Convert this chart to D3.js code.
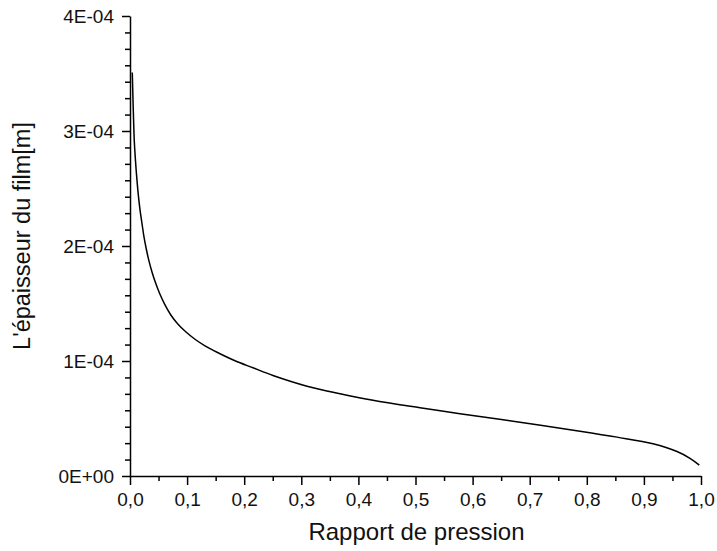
<!DOCTYPE html>
<html>
<head>
<meta charset="utf-8">
<script src="https://cdn.jsdelivr.net/npm/d3@7"></script>
<style>
  body { margin: 0; background: #fff; }
  text { font-family: "Liberation Sans", Arial, sans-serif; fill: #111; }
</style>
</head>
<body>
<div id="chart"></div>
<script>
// pressure ratio (x) and film thickness in m (y)
const ratio = [0.0040, 0.0058, 0.0075, 0.0096, 0.0117, 0.0145, 0.0175, 0.0210, 0.0245, 0.0289,
    0.0333, 0.0385, 0.0447, 0.0525, 0.0613, 0.0718, 0.0841, 0.0981, 0.1138, 0.1313,
    0.1524, 0.1839, 0.2154, 0.2504, 0.3100, 0.3678, 0.4256, 0.5079, 0.5779, 0.6830,
    0.7881, 0.8529, 0.9159, 0.9580, 0.9807, 0.9970];
const thickness = [3.508e-4, 3.176e-4, 2.915e-4, 2.742e-4, 2.603e-4, 2.447e-4, 2.317e-4, 2.195e-4, 2.080e-4, 1.965e-4,
    1.868e-4, 1.774e-4, 1.680e-4, 1.580e-4, 1.488e-4, 1.398e-4, 1.320e-4, 1.252e-4, 1.189e-4, 1.132e-4,
    1.076e-4, 1.002e-4, 0.941e-4, 0.874e-4, 0.781e-4, 0.716e-4, 0.659e-4, 0.594e-4, 0.542e-4, 0.468e-4,
    0.390e-4, 0.338e-4, 0.280e-4, 0.213e-4, 0.154e-4, 0.095e-4];

const xTicks = [0, 0.1, 0.2, 0.3, 0.4, 0.5, 0.6, 0.7, 0.8, 0.9, 1.0];
const yTicks = [0, 1e-4, 2e-4, 3e-4, 4e-4];
const yLabels = ['0E+00', '1E-04', '2E-04', '3E-04', '4E-04'];

const width = 717;
const height = 551;
const margin = { top: 16, right: 16, bottom: 75, left: 130 };

const data = ratio.map((r, i) => ({ x: r, y: thickness[i] }));

const x = d3.scaleLinear()
    .domain([0, 1])
    .range([margin.left, width - margin.right]);

const y = d3.scaleLinear()
    .domain([0, 4e-4])
    .range([height - margin.bottom, margin.top]);

const svg = d3.select('#chart')
    .append('svg')
    .attr('width', width)
    .attr('height', height);

// minor ticks: one between x majors, six between y majors
const xMinor = d3.range(0.05, 1, 0.1);
const yMinor = [];
yTicks.slice(0, -1).forEach(t => {
    for (let k = 1; k < 7; k++) yMinor.push(t + k * 1e-4 / 7);
});

// x axis
const xAxis = svg.append('g')
    .attr('transform', `translate(0, ${height - margin.bottom})`);
xAxis.call(d3.axisBottom(x).tickValues(xMinor).tickSize(5).tickFormat(''))
    .call(g => g.select('.domain').remove());
xAxis.append('g')
    .call(d3.axisBottom(x).tickValues(xTicks).tickSize(9).tickSizeOuter(0).tickPadding(8)
        .tickFormat(d => d3.format('.1f')(d).replace('.', ',')));

// y axis
const yAxis = svg.append('g')
    .attr('transform', `translate(${margin.left}, 0)`);
yAxis.call(d3.axisLeft(y).tickValues(yMinor).tickSize(5).tickFormat(''))
    .call(g => g.select('.domain').remove());
yAxis.append('g')
    .call(d3.axisLeft(y).tickValues(yTicks).tickSize(8).tickSizeOuter(0).tickPadding(8)
        .tickFormat((d, i) => yLabels[i]));

svg.selectAll('.domain, .tick line')
    .attr('stroke', '#000')
    .attr('stroke-width', 1.5);
svg.selectAll('.tick text')
    .attr('font-size', '19px')
    .attr('fill', '#111');

// axis titles
svg.append('text')
    .attr('x', (margin.left + width - margin.right) / 2 + 1)
    .attr('y', 540)
    .attr('text-anchor', 'middle')
    .attr('font-size', '24px')
    .text('Rapport de pression');

svg.append('text')
    .attr('transform', `translate(30, 236) rotate(-90)`)
    .attr('text-anchor', 'middle')
    .attr('font-size', '23.5px')
    .text("L'épaisseur du film[m]");

// curve
svg.append('path')
    .datum(data)
    .attr('fill', 'none')
    .attr('stroke', '#000')
    .attr('stroke-width', 1.5)
    .attr('d', d3.line()
        .x(d => x(d.x))
        .y(d => y(d.y))
        .curve(d3.curveCatmullRom.alpha(0.5)));
</script>
</body>
</html>
